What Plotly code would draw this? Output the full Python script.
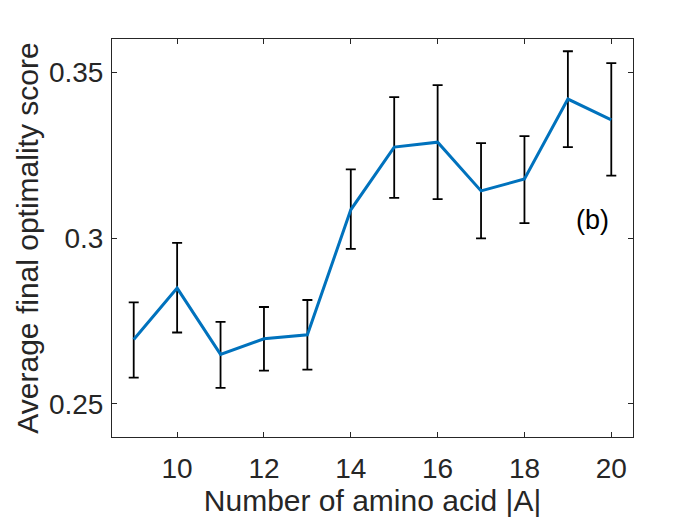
import plotly.graph_objects as go

# number of amino acids |A|
n_amino = [9, 10, 11, 12, 13, 14, 15, 16, 17, 18, 19, 20]
# average final optimality score
avg_score = [0.2694, 0.2849, 0.2649, 0.2696, 0.2708, 0.3085,
             0.3274, 0.3289, 0.3142, 0.3178, 0.3419, 0.3356]
# error bar ends
err_top = [0.2806, 0.2985, 0.2747, 0.2792, 0.2813, 0.3207,
           0.3425, 0.3461, 0.3286, 0.3307, 0.3563, 0.3527]
err_bottom = [0.2579, 0.2715, 0.2548, 0.2600, 0.2603, 0.2967,
              0.3121, 0.3117, 0.2999, 0.3045, 0.3274, 0.3188]

err_plus = [t - m for t, m in zip(err_top, avg_score)]
err_minus = [m - b for m, b in zip(avg_score, err_bottom)]

txt = '#262626'
font = 'Liberation Sans, Arial, Helvetica, sans-serif'

# error bars first, so the blue line sits on top
bars = go.Scatter(x=n_amino, y=avg_score, mode='markers',
                  marker=dict(size=1, color='rgba(0,0,0,0)'),
                  error_y=dict(type='data', symmetric=False,
                               array=err_plus, arrayminus=err_minus,
                               color='black', thickness=1.8, width=5),
                  showlegend=False, hoverinfo='skip')

line = go.Scatter(x=n_amino, y=avg_score, mode='lines',
                  line=dict(color='#0072BD', width=3),
                  showlegend=False)

axis_style = dict(showline=True, linecolor=txt, linewidth=1, mirror='ticks',
                  ticks='inside', ticklen=5, tickcolor=txt, tickwidth=1,
                  showgrid=False, zeroline=False,
                  tickfont=dict(size=28, color=txt))

# page body has an 8px margin, so the figure is a bit smaller than the window
layout = go.Layout(
    width=692, height=517,
    paper_bgcolor='white', plot_bgcolor='white',
    font=dict(family=font, color=txt),
    margin=dict(l=104, r=67, t=31, b=88),
    xaxis=dict(range=[8.5, 20.5], tickvals=[10, 12, 14, 16, 18, 20],
               ticklabelstandoff=6,
               title=dict(text='Number of amino acid |A|',
                          font=dict(size=30, color=txt), standoff=4),
               **axis_style),
    yaxis=dict(range=[0.24, 0.36], tickvals=[0.25, 0.3, 0.35],
               ticktext=['0.25', '0.3', '0.35'], ticklabelstandoff=2,
               title=dict(text='Average final optimality score',
                          font=dict(size=30, color=txt), standoff=1),
               **axis_style),
    annotations=[dict(x=19.56, y=0.3054, xref='x', yref='y', text='(b)',
                      showarrow=False, font=dict(size=27, color='black'))],
)

fig = go.Figure(data=[bars, line], layout=layout)
fig.write_html("out.html")
